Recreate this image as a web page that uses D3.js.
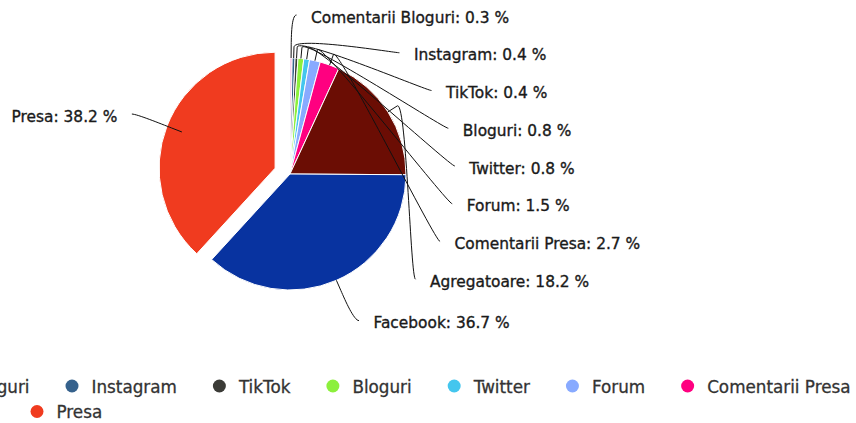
<!DOCTYPE html>
<html>
<head>
<meta charset="utf-8">
<script src="https://cdn.jsdelivr.net/npm/d3@7"></script>
<style>
body { margin: 0; background: #fff; overflow: hidden; }
svg { display: block; }
</style>
</head>
<body>
<div class="svg-container"></div>
<script>
const fmt = d3.format(".1f");

// data
const categories = ["Comentarii Bloguri", "Instagram", "TikTok", "Bloguri", "Twitter",
                    "Forum", "Comentarii Presa", "Agregatoare", "Facebook", "Presa"];
const values = [0.3, 0.4, 0.4, 0.8, 0.8, 1.5, 2.7, 18.2, 36.7, 38.2];
const colors = ["#f7a3d8", "#35618c", "#3b3b37", "#8cf03c", "#44c6ee",
                "#88aaff", "#ff0080", "#6b0d04", "#0833a0", "#f03b1f"];
const slicedName = "Presa";
const legendRows = [categories.slice(0, 7), categories.slice(7)];


// SVG

const w = 856;
const h = 423;
const cx = 290, cy = 174;
const radius = 116;
const slicedOffset = 16;
const labelRadius = 160;
const labelTop = 15, labelStep = 37.75;

const svg = d3.select(".svg-container")
    .append("svg")
    .attr("width", w)
    .attr("height", h)
    .style("font-family", "'DejaVu Sans', Verdana, sans-serif");

const data = categories.map((c, i) => ({name: c, value: values[i], color: colors[i]}));
const pie = d3.pie().sort(null).value(d => d.value);
const arc = d3.arc().innerRadius(0).outerRadius(radius);
const arcs = pie(data);

const polar = (a, r) => [cx + r * Math.sin(a), cy - r * Math.cos(a)];

svg.append("g")
    .attr("transform", `translate(${cx},${cy})`)
    .selectAll("path").data(arcs).enter()
    .append("path")
    .attr("d", arc)
    .attr("transform", d => {
        if (d.data.name !== slicedName) return null;
        const a = (d.startAngle + d.endAngle) / 2;
        return `translate(${slicedOffset * Math.sin(a)},${-slicedOffset * Math.cos(a)})`;
    })
    .style("fill", d => d.data.color)
    .style("stroke", "#fff").style("stroke-width", 1).style("stroke-linejoin", "round");


// labels, highcharts-ish layout
function getX(y, left) {
    const s = Math.max(-1, Math.min(1, (y - cy) / labelRadius));
    return cx + (left ? -1 : 1) * Math.cos(Math.asin(s)) * labelRadius;
}

arcs.forEach(d => {
    d.mid = (d.startAngle + d.endAngle) / 2;
    d.left = d.mid > Math.PI;
    d.natY = cy - labelRadius * Math.cos(d.mid);
});

const right = arcs.filter(d => !d.left);
const left = arcs.filter(d => d.left);
const first = Math.max(labelTop, right[0].natY);
right.forEach((d, i) => {
    const last = i === right.length - 1;
    d.ly = last ? Math.max(d.natY, first + i * labelStep) : first + i * labelStep;
    d.lx = getX((i === 0 || last) ? d.natY : d.ly, false);
});
left.forEach(d => {
    d.ly = d.natY - 2;
    d.lx = getX(d.natY, true) - 4;
});

const labels = svg.append("g");
labels.selectAll("path").data(arcs).enter()
    .append("path")
    .attr("d", d => {
        const s = d.left ? -1 : 1;
        const edge = polar(d.mid, radius);
        const brk = polar(d.mid, radius + 11);
        const ctrl = polar(d.mid, radius + 22);
        return `M${d.lx + s * 5},${d.ly}C${d.lx},${d.ly} ${ctrl[0]},${ctrl[1]} ${brk[0]},${brk[1]}L${edge[0]},${edge[1]}`;
    })
    .style("fill", "none").style("stroke", "#111").style("stroke-width", 1);

labels.selectAll("text").data(arcs).enter()
    .append("text")
    .attr("x", d => d.lx + (d.left ? -19.5 : 19.5))
    .attr("y", d => d.ly + 2.5)
    .attr("text-anchor", d => d.left ? "end" : "start")
    .attr("dominant-baseline", "central")
    .style("font-size", "15.4px")
    .style("fill", "#1a1a1a")
    .style("stroke", "#1a1a1a").style("stroke-width", 0.35)
    .text(d => `${d.data.name}: ${fmt(d.data.value)} %`);


// legend
const legend = svg.append("g").style("font-size", "16.8px");
const rowY = [386, 411.5];
// which item sits where, so the rows start off the left edge like the original
const rowAnchor = [{index: 1, x: 72}, {index: 2, x: 37}];
const dotR = 6.5, textGap = 19.5, itemGap = 42.5;

function textWidth(s) {
    const t = legend.append("text").text(s);
    const wd = t.node().getComputedTextLength();
    t.remove();
    return wd;
}

legendRows.forEach((row, r) => {
    const widths = row.map(n => textGap + textWidth(n) + itemGap);
    let x = rowAnchor[r].x - d3.sum(widths.slice(0, rowAnchor[r].index));
    row.forEach((name, i) => {
        const c = colors[categories.indexOf(name)];
        legend.append("circle")
            .attr("cx", x).attr("cy", rowY[r]).attr("r", dotR)
            .style("fill", c);
        legend.append("text")
            .attr("x", x + textGap).attr("y", rowY[r] + 0.5)
            .attr("dominant-baseline", "central")
            .style("fill", "#333")
            .style("stroke", "#333").style("stroke-width", 0.3)
            .text(name);
        x += widths[i];
    });
});
</script>
</body>
</html>
